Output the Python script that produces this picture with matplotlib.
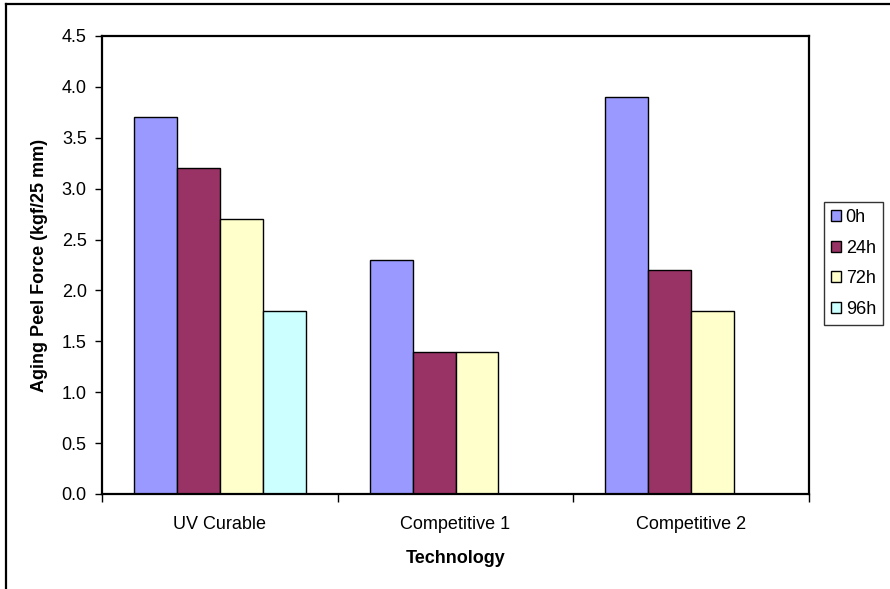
import matplotlib
matplotlib.use("Agg")
import matplotlib.pyplot as plt
from matplotlib.lines import Line2D
import numpy as np

plt.rcParams['font.family'] = ['Liberation Sans', 'DejaVu Sans']

categories = ["UV Curable", "Competitive 1", "Competitive 2"]
series_names = ["0h", "24h", "72h", "96h"]
values_0h = [3.7, 2.3, 3.9]
values_24h = [3.2, 1.4, 2.2]
values_72h = [2.7, 1.4, 1.8]
values_96h = [1.8, 0.0, 0.0]
colors = ["#9999FF", "#993366", "#FFFFCC", "#CCFFFF"]
y_ticks = [0.0, 0.5, 1.0, 1.5, 2.0, 2.5, 3.0, 3.5, 4.0, 4.5]

FS = 13
W, H = 890, 589
fig = plt.figure(figsize=(W / 100, H / 100), dpi=100)

# outer chart frame (left and top edges)
fig.add_artist(Line2D([6 / W, 6 / W], [0, 1 - 4 / H], color="black", lw=1.6))
fig.add_artist(Line2D([6 / W, 1], [1 - 4 / H, 1 - 4 / H], color="black", lw=1.6))

left, right, top, bottom = 102, 809, 36, 494
ax = fig.add_axes([left / W, 1 - bottom / H, (right - left) / W, (bottom - top) / H])

all_series = [values_0h, values_24h, values_72h, values_96h]
n = len(all_series)
gap = 1.5
bw = 1.0 / (n + gap)
x = np.arange(len(categories))
for i, (vals, c, name) in enumerate(zip(all_series, colors, series_names)):
    pos = x - 0.5 + bw * gap / 2 + bw * (i + 0.5)
    ax.bar(pos, vals, width=bw, color=c, edgecolor="black", linewidth=1.0, label=name)

ax.set_xlim(-0.5, len(categories) - 0.5)
ax.set_ylim(0, 4.5)
ax.set_yticks(y_ticks)
ax.set_yticklabels([f"{v:.1f}" for v in y_ticks], fontsize=FS)
ax.set_xticks(x)
ax.set_xticklabels(categories, fontsize=FS)
ax.set_xticks(np.arange(len(categories) + 1) - 0.5, minor=True)
ax.tick_params(axis="x", which="major", length=0, pad=16)
ax.tick_params(axis="x", which="minor", length=6, direction="out", width=1)
ax.tick_params(axis="y", length=5, direction="out", width=1, pad=6)
for s in ax.spines.values():
    s.set_linewidth(1.6)
    s.set_color("black")

ax.set_ylabel("Aging Peel Force (kgf/25 mm)", fontsize=FS, fontweight="bold", labelpad=10)
ax.set_xlabel("Technology", fontsize=FS, fontweight="bold", labelpad=12)

leg = fig.legend(loc="upper left", bbox_to_anchor=(824 / W, 1 - 202 / H),
                 fontsize=FS, frameon=True, fancybox=False, edgecolor="black",
                 handlelength=0.55, handleheight=0.55, handletextpad=0.25,
                 labelspacing=0.75, borderpad=0.4, borderaxespad=0)
leg.get_frame().set_linewidth(1.0)

fig.savefig("out.png", dpi=100)
